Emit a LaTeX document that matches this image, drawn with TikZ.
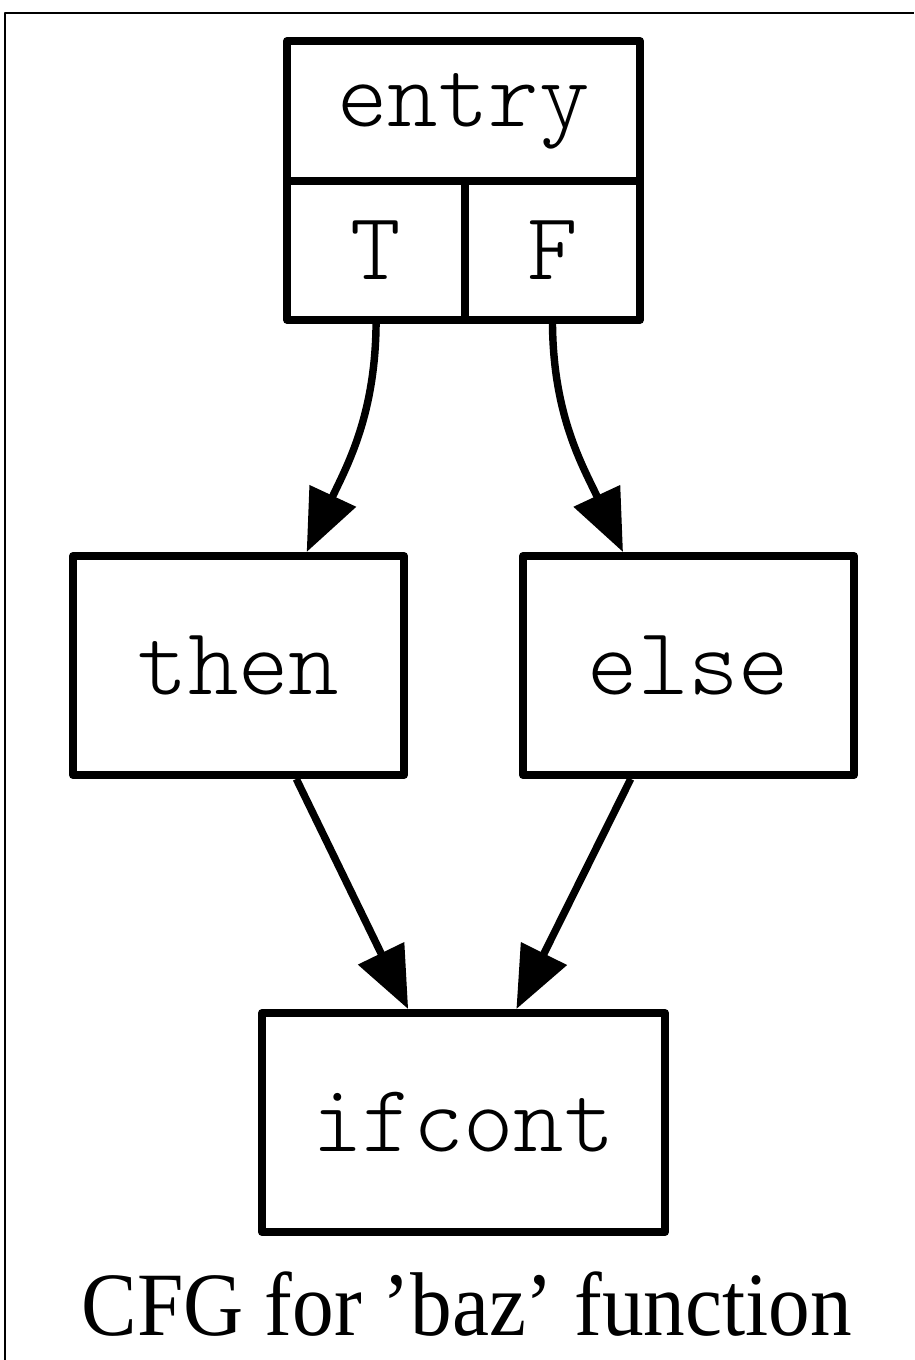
\documentclass[tikz,border=0pt]{standalone}
\usepackage{fontspec}
\setmainfont{Liberation Serif}
\newfontfamily\courfont{lmmonolt10-regular.otf}
\usetikzlibrary{positioning,arrows.meta}

\begin{document}
\begin{tikzpicture}[x=0.1613pt, y=-0.1613pt, line width=1.3pt, line join=round,
    main/.style = {draw, rectangle, inner sep=0pt, minimum width=53.4pt, minimum height=35.3pt, font=\courfont\fontsize{15.5}{17}\selectfont},
    cell/.style = {draw, rectangle, inner sep=0pt, outer sep=0pt, font=\courfont\fontsize{15.5}{17}\selectfont},
    edge/.style = {-{Triangle[length=10pt,width=8pt]}, line width=1.2pt}
    ]
\useasboundingbox (0,0) rectangle (914,1360);
\draw[line width=0.4pt] (5,1360) -- (5,13) -- (914,13);

\node[cell, minimum width=56.9pt, minimum height=22.6pt] (0) at (463.5,111) {entry};
\node[cell, minimum width=28.7pt, minimum height=22.4pt, anchor=north west] (1) at (0.south west) {T};
\node[cell, minimum width=28.2pt, minimum height=22.4pt, anchor=north east] (2) at (0.south east) {F};

\node[main] (3) at (238.5,665.5) {then};
\node[main] (4) at (688.5,665.5) {else};
\node[main, minimum width=65pt] (5) at (463.5,1122.5) {ifcont};

\node[anchor=base, font=\fontsize{14.6}{16}\selectfont] (6) at (467,1335) {\scalebox{0.92}[1]{CFG for ’baz’ function}};

\draw[edge] (1.south) to[out=-90,in=65] (3.59);
\draw[edge] (2.south) to[out=-90,in=115] (4.120);
\draw[edge] (3.-63) -- (5.116);
\draw[edge] (4.-117) -- (5.65);

\end{tikzpicture}
\end{document}
